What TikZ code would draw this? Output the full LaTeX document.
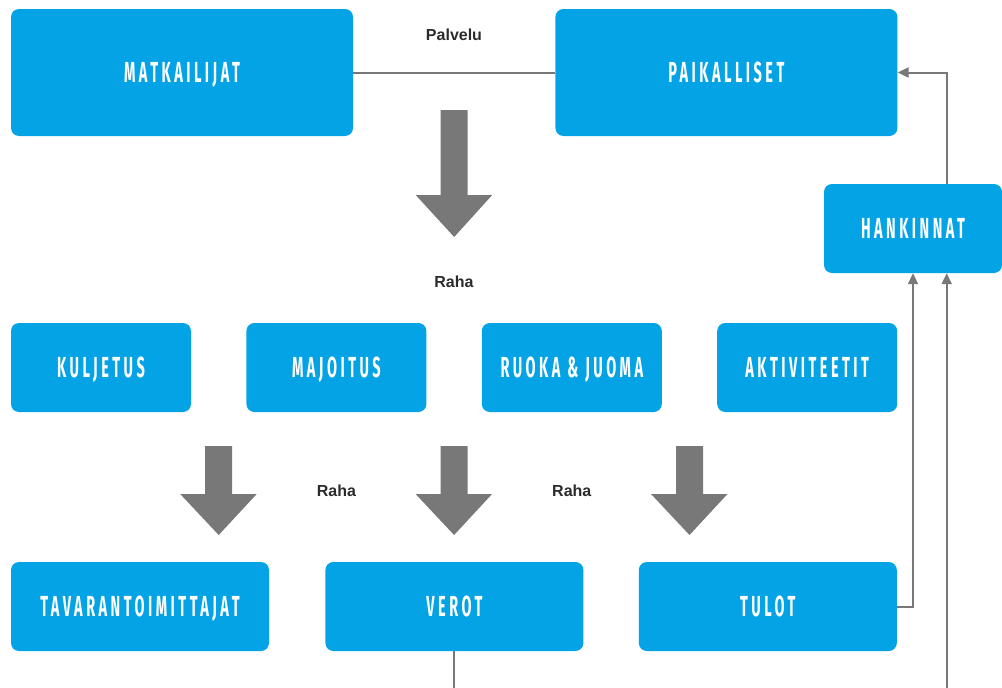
\documentclass[tikz,border=0pt]{standalone}
\usepackage{fontspec}
\setmainfont{Liberation Sans}
\newfontfamily\boxfont{Fira Sans}[FakeStretch=0.5, LetterSpace=12]
\usetikzlibrary{arrows.meta, positioning, calc}
\definecolor{boxblue}{HTML}{03A3E6}
\definecolor{arrowgray}{HTML}{787878}
\definecolor{labelgray}{HTML}{2B2B2B}

\begin{document}
\begin{tikzpicture}[
      x=1pt, y=-1pt,
      box/.style   = {fill=boxblue, rounded corners=8pt, text=white,
                      align=center, inner sep=0pt, text height=20pt, text depth=0pt,
                      font=\boxfont\bfseries\fontsize{29}{29}\selectfont},
      bigbox/.style= {box, minimum width=342pt, minimum height=127pt},
      midbox/.style= {box, minimum width=180pt, minimum height=89pt},
      lowbox/.style= {box, minimum width=258pt, minimum height=89pt},
      lbl/.style   = {font=\bfseries\fontsize{16}{16}\selectfont, text=labelgray},
      conn/.style  = {draw=arrowgray, line width=2pt},
      arr/.style   = {conn, -{Triangle[length=11pt, width=10pt]}},
      blockarrow/.style = {fill=arrowgray},
    ]

    \useasboundingbox (0,0) rectangle (1002,688);

    % top row
    \node[bigbox] (matkailijat) at (182,72.5) {MATKAILIJAT};
    \node[bigbox, right=202pt of matkailijat] (paikalliset) {PAIKALLISET};
    \node[box, minimum width=178pt, minimum height=89pt] (hankinnat) at (913,228.5) {HANKINNAT};

    % middle row
    \node[midbox] (kuljetus) at (101,367.5) {KULJETUS};
    \node[midbox, right=55pt of kuljetus] (majoitus) {MAJOITUS};
    \node[midbox, right=55pt of majoitus] (ruoka)    {RUOKA \& JUOMA};
    \node[midbox, right=55pt of ruoka]    (aktiv)    {AKTIVITEETIT};

    % bottom row
    \node[lowbox] (tavara) at (140,606.5) {TAVARANTOIMITTAJAT};
    \node[lowbox, right=56pt of tavara] (verot) {VEROT};
    \node[lowbox, right=55pt of verot]  (tulot) {TULOT};

    % labels
    \node[lbl] (palvelu) at (454,35) {Palvelu};
    \node[lbl] (raha1) at (454,282) {Raha};
    \node[lbl] (raha2) at (majoitus |- 0,491) {Raha};
    \node[lbl] (raha3) at (ruoka |- 0,491) {Raha};

    % big money arrows
    \coordinate (toparrow) at ($(matkailijat)!0.5!(paikalliset)$);
    \fill[blockarrow] ($(toparrow |- 0,110)+(-13.5,0)$) -- ++(27,0) -- ++(0,85)
      -- ++(24.5,0) -- ($(toparrow |- 0,237)$) -- ($(toparrow |- 0,195)+(-38.5,0)$)
      -- ++(25,0) -- cycle;
    \foreach \a/\b in {kuljetus/majoitus, majoitus/ruoka, ruoka/aktiv}{
      \coordinate (m) at ($(\a)!0.5!(\b)$);
      \fill[blockarrow] ($(m |- 0,446)+(-13.5,0)$) -- ++(27,0) -- ++(0,48)
        -- ++(24.5,0) -- ($(m |- 0,535)$) -- ($(m |- 0,494)+(-38.5,0)$)
        -- ++(25,0) -- cycle;
    }

    % connectors
    \coordinate (offright) at (946.7,688);
    \coordinate (offverot) at (verot.south |- 0,688);
    \draw[conn] (matkailijat.east) -- (paikalliset.west);
    \draw[arr] (hankinnat.north -| offright) |- (paikalliset.east);
    \draw[arr] (tulot.east) -| (hankinnat.south);
    \draw[arr] (offright) -- (offright |- hankinnat.south);
    \draw[conn] (verot.south) -- (offverot);

  \end{tikzpicture}
\end{document}
